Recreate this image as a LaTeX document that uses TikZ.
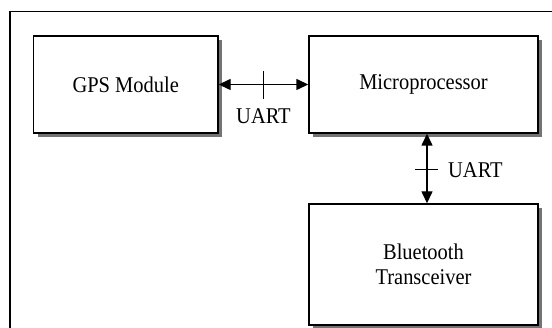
\documentclass[tikz,border=0pt]{standalone}
\usepackage{fontspec}
\setmainfont{Liberation Serif}[FakeStretch=0.91]
\usetikzlibrary{arrows.meta,shadows,calc}
\begin{document}
\begin{tikzpicture}[x=1pt,y=1pt,
  block/.style={draw=black,line width=1.4pt,fill=white,align=center,
    font=\fontsize{22.5}{24.5}\selectfont,inner sep=0pt,
    drop shadow={shadow xshift=4pt,shadow yshift=-4pt,fill=black!55,opacity=1}},
  link/.style={line width=1.4pt,{Triangle[length=12pt,width=11pt]}-{Triangle[length=12pt,width=11pt]}},
  tick/.style={line width=1.1pt},
  lbl/.style={font=\fontsize{22.5}{24.5}\selectfont,inner sep=0pt}]
\useasboundingbox (0,0) rectangle (552,327);
\fill[white] (0,0) rectangle (552,327);
\begin{scope}
  \clip (0,0) rectangle (552,327);
  % outer frame, running off the right and bottom edges
  \draw[line width=1.5pt] (10,-20) -- (10,315.5) -- (570,315.5);
\end{scope}
\node[block,minimum width=184.5pt,minimum height=97pt] (gps) at (125.75,242.5) {GPS Module};
\node[block,minimum width=229pt,minimum height=97pt] (mcu) at (423.5,242.5) {Microprocessor};
\node[block,minimum width=229pt,minimum height=121pt] (bt) at (423.5,62.5) {Bluetooth\\Transceiver};
% GPS <-> microprocessor
\draw[link] (gps.east) -- (mcu.west);
\coordinate (h) at ($(gps.east)!0.5!(mcu.west)$);
\draw[tick] ($(h)+(0,13)$) -- ($(h)+(0,-15)$);
\node[lbl] (hl) at ($(h)+(0,-31.5)$) {UART};
% microprocessor <-> Bluetooth
\coordinate (mt) at ($(mcu.south)+(3.5,0)$);
\coordinate (bb) at ($(bt.north)+(3.5,0)$);
\draw[link] (mt) -- (bb);
\coordinate (v) at ($(mt)!0.52!(bb)$);
\draw[tick] ($(v)+(-12,0)$) -- ($(v)+(11,0)$);
\node[lbl,anchor=west] (vl) at ($(v)+(21,0)$) {UART};
\end{tikzpicture}
\end{document}
